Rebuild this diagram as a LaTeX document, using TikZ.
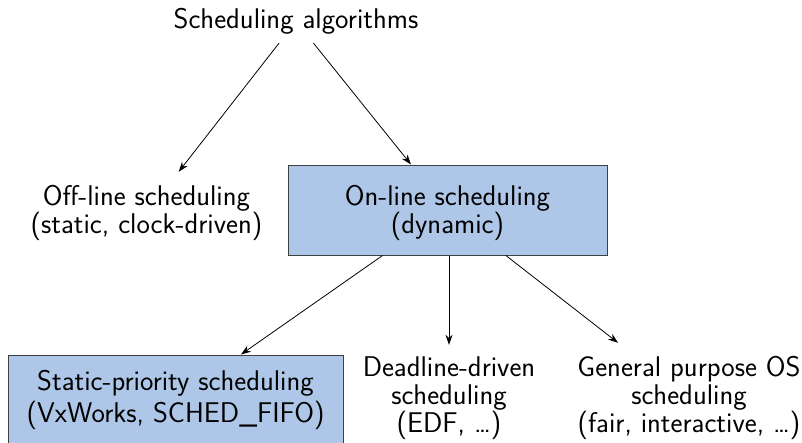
\documentclass[tikz,border=0pt]{standalone}
\usepackage{fontspec}
\usetikzlibrary{arrows.meta}
\definecolor{boxblue}{RGB}{174,199,232}
\definecolor{boxedge}{RGB}{64,64,64}
\begin{document}
\begin{tikzpicture}[x=1pt,y=-1pt,
  every node/.style={font=\fontsize{28.5}{28}\selectfont\sffamily, align=center, inner sep=0pt},
  filled/.style={draw=boxedge, fill=boxblue, line width=1pt},
  arr/.style={-{Stealth[length=10pt,width=7pt]}, line width=0.8pt}]
\useasboundingbox (0,0) rectangle (802,442);
\clip (0,0) rectangle (802,442);
% top level
\node[minimum width=260, minimum height=43.3] (root) at (296,21.35) {Scheduling algorithms};
% second level
\node[minimum width=230, minimum height=82.3] (off) at (146.5,213.15)
  {Off-line scheduling\\(static, clock-driven)};
\node[filled, minimum width=319, minimum height=90] (online) at (447.5,210)
  {\rule{0pt}{26.1pt}On-line scheduling\\(dynamic)};
% third level
\node[filled, minimum width=335, minimum height=90.7,
      font=\fontsize{28.5}{32}\selectfont\sffamily] (static) at (175.5,400.35)
  {Static-priority scheduling\\(VxWorks, SCHED\_FIFO)};
\node[minimum width=170, minimum height=106.3] (deadline) at (449,398.15)
  {Deadline-driven\\scheduling\\(EDF, …)};
\node[minimum width=230, minimum height=110.3] (general) at (689,398.15)
  {General purpose OS\\scheduling\\(fair, interactive, …)};
% connectors
\draw[arr] (root) -- (off);
\draw[arr] (root) -- (online);
\draw[arr] (online) -- (static);
\draw[arr] (online.south -| deadline.north) -- (deadline.north);
\draw[arr] (online) -- (general);
\end{tikzpicture}
\end{document}
